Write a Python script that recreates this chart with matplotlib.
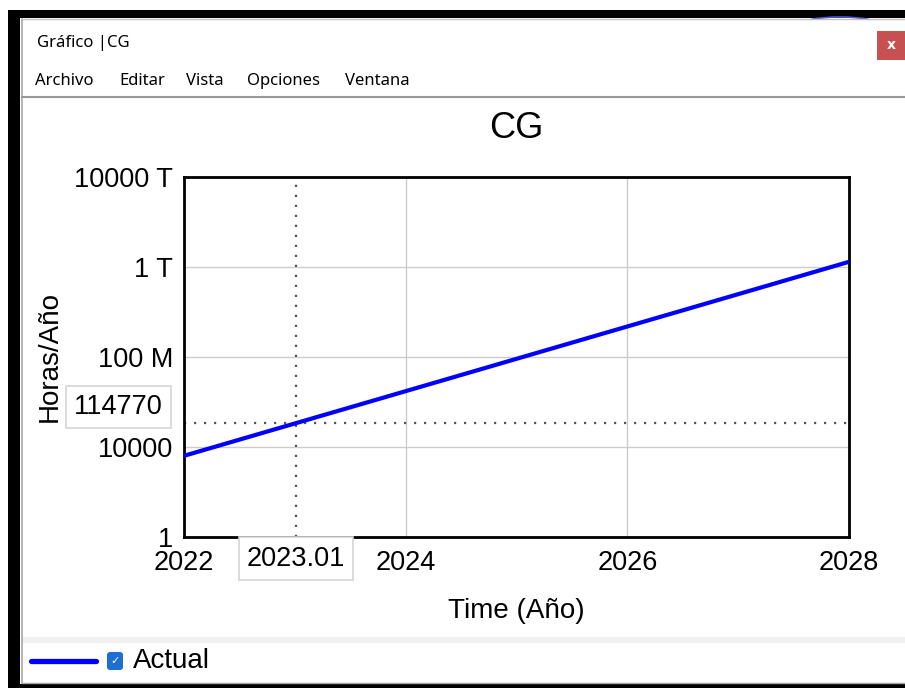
import matplotlib
matplotlib.use("Agg")
import matplotlib.pyplot as plt
from matplotlib.patches import Rectangle, FancyBboxPatch, Arc
from matplotlib.lines import Line2D
from matplotlib.transforms import Affine2D, offset_copy
from matplotlib.ticker import FixedLocator, FixedFormatter, NullLocator

# CG series (Horas/Año) per year
years = [2022, 2023, 2024, 2025, 2026, 2027, 2028]
cg_values = [4060, 1.11e5, 3.03e6, 8.3e7, 2.27e9, 6.2e10, 1.7e12]

x_ticks = [2022, 2024, 2026, 2028]
x_tick_labels = ["2022", "2024", "2026", "2028"]
y_ticks = [1, 1e4, 1e8, 1e12, 1e16]
y_tick_labels = ["1", "10000", "100 M", "1 T", "10000 T"]

# cursor readout
cursor_time = 2023.01
cursor_value = 114770

menu_items = ["Archivo", "Editar", "Vista", "Opciones", "Ventana"]
menu_x = [35, 119, 186, 247, 345]

W, H = 905, 688
plt.rcParams["font.family"] = ["Liberation Sans", "DejaVu Sans"]

fig = plt.figure(figsize=(W / 100, H / 100), dpi=100)
fig.patch.set_facecolor("white")

# pixel coordinates with origin at top-left
px = Affine2D().scale(1, -1).translate(0, H).scale(1 / W, 1 / H) + fig.transFigure


def rect(x0, y0, x1, y1, color, **kw):
    fig.patches.append(Rectangle((x0, y1), x1 - x0, y0 - y1, transform=px,
                                 facecolor=color, edgecolor="none", **kw))


# window frame
rect(8, 10, W, 18, "black")
rect(8, 10, 20, H, "black")
rect(8, 684, W, H, "black")
fig.lines.append(Line2D([22, 22], [19, 683], transform=px, color="#a8a8a8", lw=1.2))
fig.lines.append(Line2D([22, W], [19, 19], transform=px, color="#c0c0c0", lw=1.0))
fig.lines.append(Line2D([22, W], [683, 683], transform=px, color="#a8a8a8", lw=1.0))
fig.patches.append(Arc((840, 30), 100, 26, theta1=200, theta2=340, transform=px,
                       color="#4a5ad8", lw=1.2))

# title bar and close button
fig.text(37, 43, "Gráfico |CG", transform=px, fontsize=12, family="Noto Sans",
         va="center", ha="left", color="black")
rect(877, 31, W, 60, "#c75050")
fig.text(891, 45, "x", transform=px, fontsize=10, fontweight="bold", color="white",
         ha="center", va="center", family="DejaVu Sans")

# menu bar
for name, mx in zip(menu_items, menu_x):
    fig.text(mx, 81, name, transform=px, fontsize=12, family="Noto Sans",
             va="center", ha="left", color="black")
fig.lines.append(Line2D([22, W], [97, 97], transform=px, color="#9a9a9a", lw=1.5))

# plot
ax = fig.add_axes([184 / W, 1 - 537 / H, (849 - 184) / W, (537 - 177) / H])
ax.plot(years, cg_values, color="#0000ff", lw=3.0, solid_capstyle="butt", zorder=3)
ax.set_yscale("log")
ax.set_xlim(2022, 2028)
ax.set_ylim(1, 1e16)

ax.xaxis.set_major_locator(FixedLocator(x_ticks))
ax.xaxis.set_major_formatter(FixedFormatter(x_tick_labels))
ax.yaxis.set_major_locator(FixedLocator(y_ticks))
ax.yaxis.set_major_formatter(FixedFormatter(y_tick_labels))
ax.xaxis.set_minor_locator(NullLocator())
ax.yaxis.set_minor_locator(NullLocator())
ax.tick_params(axis="both", length=0, labelsize=19.5, colors="black")
ax.tick_params(axis="x", pad=9)
ax.tick_params(axis="y", pad=8)
ax.grid(True, color="#cccccc", lw=1.0)
ax.set_axisbelow(True)
for sp in ax.spines.values():
    sp.set_linewidth(2.0)
    sp.set_color("black")

ax.set_title("CG", fontsize=26, pad=28)
ax.set_xlabel("Time (Año)", fontsize=20, labelpad=16)
ax.set_ylabel("Horas/Año", fontsize=20)
ax.yaxis.set_label_coords(-0.183, 0.5)

# cursor crosshair
ax.axvline(cursor_time, color="#555555", lw=1.6, ls=(0, (1, 3.5)), zorder=2)
ax.axhline(cursor_value, color="#555555", lw=1.6, ls=(0, (1, 3.5)), zorder=2)
box = dict(boxstyle="square,pad=0.3", facecolor="white", edgecolor="#d4d4d4", lw=1.2)
ax.text(cursor_time, -0.06, f"{cursor_time:.2f}", transform=ax.get_xaxis_transform(),
        fontsize=19.5, ha="center", va="center", bbox=box, clip_on=False)
value_tr = offset_copy(ax.get_yaxis_transform(), fig=fig, x=0, y=16, units="dots")
ax.text(-0.099, cursor_value, f"{cursor_value}", transform=value_tr,
        fontsize=19.5, ha="center", va="center", bbox=box, clip_on=False)

# legend strip
rect(22, 637, W, 643, "#f0f0f0")
fig.lines.append(Line2D([31, 96], [661, 661], transform=px, color="#0000ff", lw=3.8,
                        solid_capstyle="round"))
fig.patches.append(FancyBboxPatch((107, 652), 16, 18, transform=px,
                                  boxstyle="round,pad=0,rounding_size=3",
                                  facecolor="#1d6fd1", edgecolor="none"))
fig.text(115, 661, "✓", transform=px, fontsize=8, color="white", ha="center",
         va="center", family="DejaVu Sans")
fig.text(133, 661, "Actual", transform=px, fontsize=20, ha="left", va="center")

fig.savefig("out.png", dpi=100)
